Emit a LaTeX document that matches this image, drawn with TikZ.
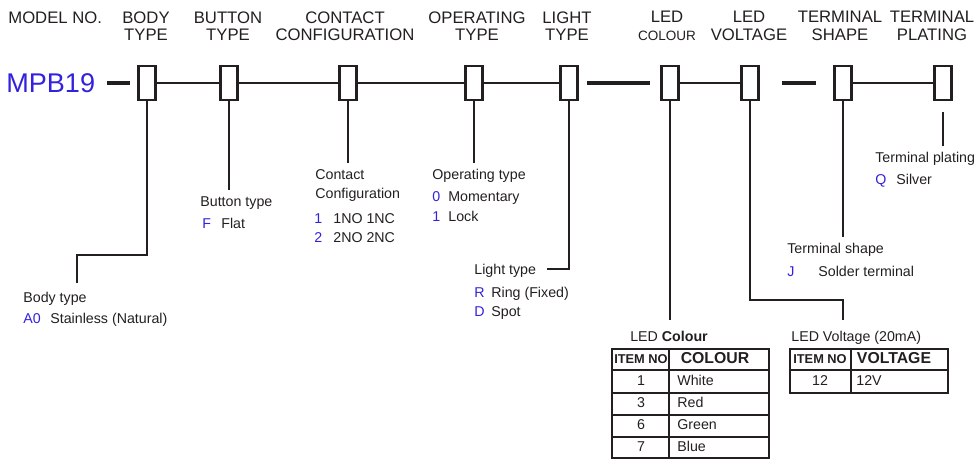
\documentclass[tikz,border=0pt]{standalone}
\usepackage{fontspec}
\setmainfont{Liberation Sans}
\usetikzlibrary{positioning}
\definecolor{cblue}{RGB}{51,34,221}
\definecolor{cink}{RGB}{35,31,32}

\begin{document}
\begin{tikzpicture}[
  x=0.02cm, y=-0.02cm,
  font=\fontsize{8.1}{9.7}\selectfont, text=cink,
  slot/.style={draw=cink, line width=1.2pt, minimum width=0.34cm,
               minimum height=0.68cm, inner sep=0},
  head/.style={align=center, inner sep=0, anchor=north,
               font=\fontsize{9.5}{9.8}\selectfont},
  lbl/.style={anchor=base west, inner sep=0},
  code/.style={lbl, text=cblue},
  wire/.style={draw=cink, line width=0.6pt},
  thickbar/.style={draw=cink, line width=2pt},
  gridline/.style={draw=cink, line width=0.8pt},
  thd/.style={anchor=base, inner sep=0, font=\fontsize{7.3}{8}\selectfont\bfseries},
  cnum/.style={anchor=base, inner sep=0},
]
\useasboundingbox (0,0) rectangle (976,459);

% model number and slots
\node[anchor=west, inner sep=0, text=cblue,
      font=\fontsize{15.4}{18}\selectfont] (model) at (6,83) {MPB19};
\node[slot] (body)  at (147,83) {};
\node[slot] (btn)   at (229,83) {};
\node[slot] (cont)  at (348,83) {};
\node[slot] (oper)  at (474,83) {};
\node[slot] (light) at (569,83) {};
\node[slot] (ledc)  at (670,83) {};
\node[slot] (ledv)  at (750,83) {};
\node[slot] (tshp)  at (843,83) {};
\node[slot] (tpl)   at (943,83) {};

% headings
\node[head, anchor=north west] (hmod) at (8,11) {MODEL NO.};
\node[head] (hbody)  at (146,11) {BODY\\TYPE};
\node[head] (hbtn)   at (228,11) {BUTTON\\TYPE};
\node[head] (hcont)  at (345,11) {CONTACT\\CONFIGURATION};
\node[head] (hoper)  at (477,11) {OPERATING\\TYPE};
\node[head] (hlight) at (567,11) {LIGHT\\TYPE};
\node[head] (hledc)  at (667,11) {LED\\{\fontsize{7.7}{9.8}\selectfont COLOUR}};
\node[head] (hledv)  at (749,11) {LED\\VOLTAGE};
\node[head] (htshp)  at (840,11) {TERMINAL\\SHAPE};
\node[head] (htpl)   at (932,11) {TERMINAL\\PLATING};

% separators
\draw[thickbar] (107,83) -- (130,83);
\draw[thickbar] (587,83) -- (650,83);
\draw[thickbar] (782,83) -- (816,83);
\draw[wire] (body) -- (btn);
\draw[wire] (btn) -- (cont);
\draw[wire] (cont) -- (oper);
\draw[wire] (oper) -- (light);
\draw[wire] (ledc) -- (ledv);
\draw[wire] (tshp) -- (tpl);

% body type
\coordinate (bodyk) at (77,255);
\coordinate (bodye) at (77,283);
\draw[wire] (body.south) |- (bodyk) -- (bodye);
\node[lbl]  (lbody) at (23,302) {Body type};
\node[code] (cA0)   at (23,323) {A0};
\node[lbl]  (dA0)   at (50,323) {Stainless (Natural)};

% button type
\coordinate (btne) at (229,190);
\draw[wire] (btn.south) -- (btne);
\node[lbl]  (lbtn) at (200,207) {Button type};
\node[code] (cF)   at (202,228) {F};
\node[lbl]  (dF)   at (221,228) {Flat};

% contact configuration
\coordinate (conte) at (348,163);
\draw[wire] (cont.south) -- (conte);
\node[lbl]  (lcont1) at (315,180) {Contact};
\node[lbl]  (lcont2) at (315,198) {Configuration};
\node[code] (c1)     at (314,223) {1};
\node[lbl]  (d1)     at (333,223) {1NO 1NC};
\node[code] (c2)     at (314,242) {2};
\node[lbl]  (d2)     at (333,242) {2NO 2NC};

% operating type
\coordinate (opere) at (474,163);
\draw[wire] (oper.south) -- (opere);
\node[lbl]  (loper) at (432,180) {Operating type};
\node[code] (c0m)   at (432,201) {0};
\node[lbl]  (d0m)   at (448,201) {Momentary};
\node[code] (c1l)   at (432,221) {1};
\node[lbl]  (d1l)   at (448,221) {Lock};

% light type
\coordinate (lighte) at (547,269);
\draw[wire] (light.south) |- (lighte);
\node[lbl]  (llight) at (474,274) {Light type};
\node[code] (cR)     at (474,297) {R};
\node[lbl]  (dR)     at (491,297) {Ring (Fixed)};
\node[code] (cD)     at (474,316) {D};
\node[lbl]  (dD)     at (491,316) {Spot};

% terminal plating
\coordinate (tpls) at (943,112);
\coordinate (tple) at (943,146);
\draw[wire] (tpls) -- (tple);
\node[lbl]  (ltpl) at (875,163) {Terminal plating};
\node[code] (cQ)   at (875,185) {Q};
\node[lbl]  (dQ)   at (896,185) {Silver};

% terminal shape
\coordinate (tshpe) at (843,237);
\draw[wire] (tshp.south) -- (tshpe);
\node[lbl]  (ltshp) at (787,253) {Terminal shape};
\node[code] (cJ)    at (787,276) {J};
\node[lbl]  (dJ)    at (818,276) {Solder terminal};

% LED colour table
\coordinate (ledce) at (670,320);
\draw[wire] (ledc.south) -- (ledce);
\node[anchor=base, inner sep=0] (tledc) at (669,341) {LED \textbf{Colour}};
\draw[gridline] (612,349) rectangle (769,458);
\draw[gridline] (669,349) -- (669,458);
\foreach \r in {370,393,415,437} \draw[gridline] (612,\r) -- (769,\r);
\node[thd] (hcn) at (641,363) {ITEM NO};
\node[thd, font=\fontsize{9}{10}\selectfont\bfseries] (hcc) at (715,363) {COLOUR};
\foreach \n/\c [count=\i from 0] in {1/White,3/Red,6/Green,7/Blue} {
  \node[cnum] (cn\i) at (641,385+22.3*\i) {\n};
  \node[lbl]  (cc\i) at (677,385+22.3*\i) {\c};
}

% LED voltage table
\coordinate (ledvk) at (843,300);
\coordinate (ledve) at (843,320);
\draw[wire] (ledv.south) |- (ledvk) -- (ledve);
\node[lbl] (tledv) at (791,341) {LED Voltage (20mA)};
\draw[gridline] (790,349) rectangle (948,393);
\draw[gridline] (851,349) -- (851,393);
\draw[gridline] (790,370) -- (948,370);
\node[thd] (hvn) at (820,363) {ITEM NO};
\node[thd, font=\fontsize{9}{10}\selectfont\bfseries] (hvv) at (894,363) {VOLTAGE};
\node[cnum] (vn) at (820,385) {12};
\node[lbl]  (vv) at (856,385) {12V};
\end{tikzpicture}
\end{document}
